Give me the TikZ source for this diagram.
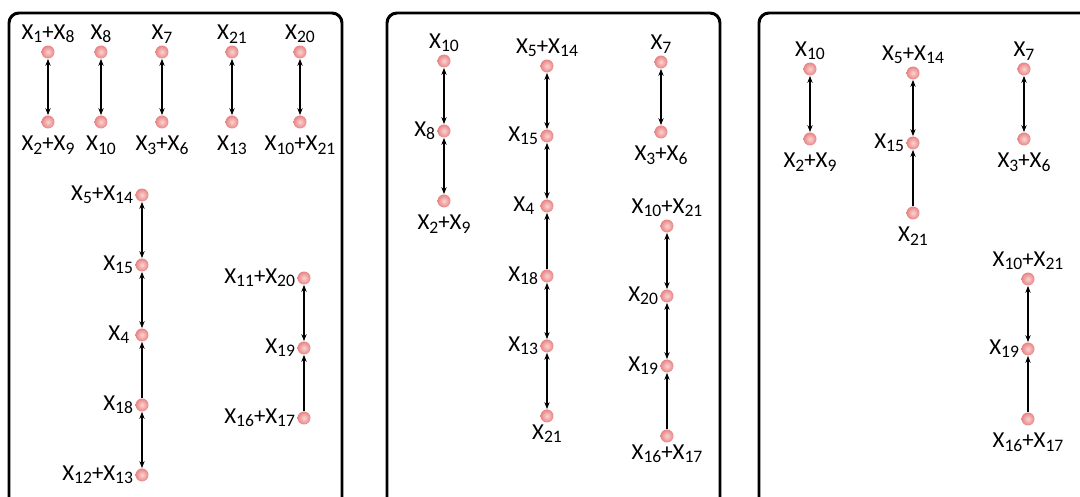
\documentclass[tikz,border=0pt]{standalone}
\usepackage{fontspec}
\setmainfont{Carlito}
\usepackage{tikz}
\usetikzlibrary{arrows.meta, positioning}
\definecolor{dotpink}{RGB}{232,132,132}
\definecolor{dotlight}{RGB}{250,212,212}
\newcommand{\xv}[1]{X\raisebox{-0.3ex}{\fontsize{10}{10}\selectfont #1}}

\begin{document}
\begin{tikzpicture}[x=0.02cm, y=-0.02cm,
    node distance=1.4cm, on grid,
    var/.style={circle, inner sep=0pt, minimum size=0.26cm, inner color=dotlight, outer color=dotpink},
    lbl/.style={font=\fontsize{13}{13}\selectfont, inner sep=1pt},
    lblb/.style={lbl, label distance=3pt},
    both/.style={{Stealth[length=4pt,width=3pt]}-{Stealth[length=4pt,width=3pt]}, line width=0.6pt},
    one/.style={-{Stealth[length=4pt,width=3pt]}, line width=0.6pt},
    frame/.style={line width=1.7pt, rounded corners=0.2cm},
    ]
    \useasboundingbox (0,0) rectangle (1080,497);

    % Frames
    \draw[frame] (9,500) -- (9,13) -- (342,13) -- (342,500);
    \draw[frame] (387,500) -- (387,13) -- (720,13) -- (720,500);
    \draw[frame] (759,500) -- (759,13) -- (1095,13);

    % Nodes, first panel
    \node[var, label={[lbl]above:\xv{1}+\xv{8}}] (A-x1x8) at (48,52) {};
    \node[var, label={[lbl]above:\xv{8}}] (A-x8) at (101,52) {};
    \node[var, label={[lbl]above:\xv{7}}] (A-x7) at (162,52) {};
    \node[var, label={[lbl]above:\xv{21}}] (A-x21) at (232,52) {};
    \node[var, label={[lbl]above:\xv{20}}] (A-x20) at (300,52) {};
    \node[var, label={[lblb]below:\xv{2}+\xv{9}}] (A-x2x9) [below=of A-x1x8] {};
    \node[var, label={[lblb]below:\xv{10}}] (A-x10) [below=of A-x8] {};
    \node[var, label={[lblb]below:\xv{3}+\xv{6}}] (A-x3x6) [below=of A-x7] {};
    \node[var, label={[lblb]below:\xv{13}}] (A-x13) [below=of A-x21] {};
    \node[var, label={[lblb]below:\xv{10}+\xv{21}}] (A-x10x21) [below=of A-x20] {};

    \node[var, label={[lbl]left:\xv{5}+\xv{14}}] (A-x5x14) at (142,195) {};
    \node[var, label={[lbl]left:\xv{15}}] (A-x15) [below=of A-x5x14] {};
    \node[var, label={[lbl]left:\xv{4}\,}] (A-x4) [below=of A-x15] {};
    \node[var, label={[lbl]left:\xv{18}}] (A-x18) [below=of A-x4] {};
    \node[var, label={[lbl]left:\xv{12}+\xv{13}}] (A-x12x13) [below=of A-x18] {};

    \node[var, label={[lbl]left:\xv{11}+\xv{20}}] (A-x11x20) at (304,278) {};
    \node[var, label={[lbl]left:\xv{19}}] (A-x19) [below=of A-x11x20] {};
    \node[var, label={[lbl]left:\xv{16}+\xv{17}}] (A-x16x17) [below=of A-x19] {};

    % Nodes, second panel
    \node[var, label={[lbl]above:\xv{10}}] (B-x10) at (444,61) {};
    \node[var, label={[lbl]left:\xv{8}}] (B-x8) [below=of B-x10] {};
    \node[var, label={[lblb]below:\xv{2}+\xv{9}}] (B-x2x9) [below=of B-x8] {};

    \node[var, label={[lbl]above:\xv{5}+\xv{14}}] (B-x5x14) at (547,66) {};
    \node[var, label={[lbl]left:\xv{15}}] (B-x15) [below=of B-x5x14] {};
    \node[var, label={[lbl]left:\xv{4}\,}] (B-x4) [below=of B-x15] {};
    \node[var, label={[lbl]left:\xv{18}}] (B-x18) [below=of B-x4] {};
    \node[var, label={[lbl]left:\xv{13}}] (B-x13) [below=of B-x18] {};
    \node[var, label={[lbl]below:\xv{21}}] (B-x21) [below=of B-x13] {};

    \node[var, label={[lbl]above:\xv{7}}] (B-x7) at (661,62) {};
    \node[var, label={[lblb]below:\xv{3}+\xv{6}}] (B-x3x6) [below=of B-x7] {};

    \node[var, label={[lbl]above:\xv{10}+\xv{21}}] (B-x10x21) at (667,226) {};
    \node[var, label={[lbl]left:\xv{20}}] (B-x20) [below=of B-x10x21] {};
    \node[var, label={[lbl]left:\xv{19}}] (B-x19) [below=of B-x20] {};
    \node[var, label={[lbl]below:\xv{16}+\xv{17}}] (B-x16x17) [below=of B-x19] {};

    % Nodes, third panel
    \node[var, label={[lbl]above:\xv{10}}] (C-x10) at (810,69) {};
    \node[var, label={[lblb]below:\xv{2}+\xv{9}}] (C-x2x9) [below=of C-x10] {};

    \node[var, label={[lbl]above:\xv{5}+\xv{14}}] (C-x5x14) at (913,73) {};
    \node[var, label={[lbl]left:\xv{15}}] (C-x15) [below=of C-x5x14] {};
    \node[var, label={[lblb]below:\xv{21}}] (C-x21) [below=of C-x15] {};

    \node[var, label={[lbl]above:\xv{7}}] (C-x7) at (1024,69) {};
    \node[var, label={[lblb]below:\xv{3}+\xv{6}}] (C-x3x6) [below=of C-x7] {};

    \node[var, label={[lbl]above:\xv{10}+\xv{21}}] (C-x10x21) at (1028,279) {};
    \node[var, label={[lbl]left:\xv{19}}] (C-x19) [below=of C-x10x21] {};
    \node[var, label={[lblb]below:\xv{16}+\xv{17}}] (C-x16x17) [below=of C-x19] {};

    % Arrows, first panel
    \draw[both] (A-x1x8) -- (A-x2x9); \draw[both] (A-x8) -- (A-x10);
    \draw[both] (A-x7) -- (A-x3x6); \draw[both] (A-x21) -- (A-x13);
    \draw[both] (A-x20) -- (A-x10x21);
    \draw[both] (A-x5x14) -- (A-x15); \draw[both] (A-x15) -- (A-x4);
    \draw[one] (A-x18) -- (A-x4); \draw[both] (A-x18) -- (A-x12x13);
    \draw[both] (A-x11x20) -- (A-x19); \draw[one] (A-x16x17) -- (A-x19);

    % Arrows, second panel
    \draw[both] (B-x10) -- (B-x8); \draw[both] (B-x8) -- (B-x2x9);
    \draw[both] (B-x5x14) -- (B-x15); \draw[both] (B-x15) -- (B-x4);
    \draw[one] (B-x18) -- (B-x4); \draw[both] (B-x18) -- (B-x13);
    \draw[both] (B-x13) -- (B-x21);
    \draw[both] (B-x7) -- (B-x3x6);
    \draw[both] (B-x10x21) -- (B-x20); \draw[both] (B-x20) -- (B-x19);
    \draw[one] (B-x16x17) -- (B-x19);

    % Arrows, third panel
    \draw[both] (C-x10) -- (C-x2x9);
    \draw[both] (C-x5x14) -- (C-x15); \draw[one] (C-x21) -- (C-x15);
    \draw[both] (C-x7) -- (C-x3x6);
    \draw[both] (C-x10x21) -- (C-x19); \draw[one] (C-x16x17) -- (C-x19);
\end{tikzpicture}
\end{document}
